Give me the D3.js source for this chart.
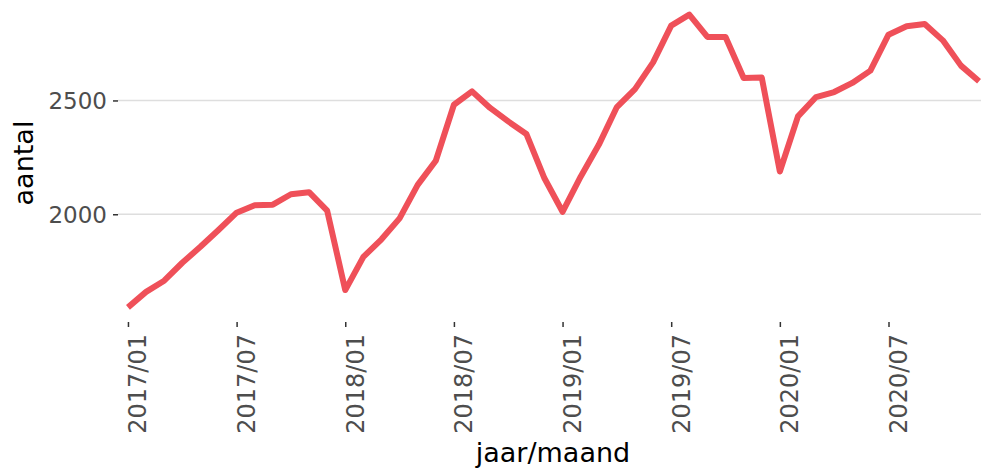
<!DOCTYPE html>
<html>
<head>
<meta charset="utf-8">
<script src="https://cdn.jsdelivr.net/npm/d3@7"></script>
<style>
  body { margin: 0; background: #fff; }
  svg { display: block; }
  svg text { font-family: "DejaVu Sans", sans-serif; }
</style>
</head>
<body>
<div id="chart"></div>
<script>
'use strict';

var months = [
    '2017/01', '2017/02', '2017/03', '2017/04', '2017/05', '2017/06',
    '2017/07', '2017/08', '2017/09', '2017/10', '2017/11', '2017/12',
    '2018/01', '2018/02', '2018/03', '2018/04', '2018/05', '2018/06',
    '2018/07', '2018/08', '2018/09', '2018/10', '2018/11', '2018/12',
    '2019/01', '2019/02', '2019/03', '2019/04', '2019/05', '2019/06',
    '2019/07', '2019/08', '2019/09', '2019/10', '2019/11', '2019/12',
    '2020/01', '2020/02', '2020/03', '2020/04', '2020/05', '2020/06',
    '2020/07', '2020/08', '2020/09', '2020/10', '2020/11', '2020/12'
];

var aantal = [
    1591, 1659, 1708, 1787, 1857, 1931, 2007, 2040, 2042, 2088, 2097, 2016,
    1667, 1813, 1890, 1982, 2129, 2235, 2481, 2540, 2467, 2408, 2353, 2158,
    2011, 2165, 2305, 2471, 2550, 2667, 2829, 2877, 2779, 2779, 2599, 2601,
    2188, 2430, 2515, 2537, 2577, 2631, 2789, 2826, 2836, 2764, 2653, 2584
];

var xTicks = ['2017/01', '2017/07', '2018/01', '2018/07', '2019/01', '2019/07', '2020/01', '2020/07'];
var yTicks = [2000, 2500];

var width = 981,
    height = 469,
    margin = {top: 0, right: -8, bottom: 147, left: 118};

var svg = d3.select('#chart').append('svg')
    .attr('width', width)
    .attr('height', height);

var x = d3.scalePoint()
    .domain(months)
    .range([margin.left, width - margin.right])
    .padding(0.55);

var lo = d3.min(aantal), hi = d3.max(aantal), pad = (hi - lo) * 0.05;
var y = d3.scaleLinear()
    .domain([lo - pad, hi + pad])
    .range([height - margin.bottom, margin.top]);

// grid
svg.append('g')
    .selectAll('line')
    .data(yTicks)
    .enter()
    .append('line')
    .attr('x1', margin.left)
    .attr('x2', width)
    .attr('y1', function(d){ return y(d); })
    .attr('y2', function(d){ return y(d); })
    .attr('stroke', '#dedede')
    .attr('stroke-width', 1.6);

// y axis
var yAxis = svg.append('g')
    .attr('transform', 'translate(' + margin.left + ',0)')
    .call(d3.axisLeft(y).tickValues(yTicks).tickFormat(d3.format('d')).tickSize(5).tickPadding(6));
yAxis.attr('font-family', null);
yAxis.select('.domain').remove();
yAxis.selectAll('line').attr('stroke', '#333').attr('stroke-width', 1.5);
yAxis.selectAll('text')
    .attr('fill', '#4d4d4d')
    .style('font-size', '23px')
    .attr('dy', '0.36em');

// x axis
var xAxis = svg.append('g')
    .attr('transform', 'translate(0,' + (height - margin.bottom) + ')')
    .call(d3.axisBottom(x).tickValues(xTicks).tickSize(5).tickPadding(6));
xAxis.attr('font-family', null);
xAxis.select('.domain').remove();
xAxis.selectAll('line').attr('stroke', '#333').attr('stroke-width', 1.5);
xAxis.selectAll('text')
    .attr('fill', '#4d4d4d')
    .style('font-size', '24px')
    .attr('text-anchor', 'end')
    .attr('transform', 'rotate(-90)')
    .attr('x', -12)
    .attr('y', 0)
    .attr('dy', '0.75em');

// line
var line = d3.line()
    .x(function(d, i){ return x(months[i]); })
    .y(function(d){ return y(d); });

svg.append('path')
    .datum(aantal)
    .attr('d', line)
    .attr('fill', 'none')
    .attr('stroke', '#ef5059')
    .attr('stroke-width', 6)
    .attr('stroke-linejoin', 'round');

// axis titles
svg.append('text')
    .attr('x', 553)
    .attr('y', 462)
    .attr('text-anchor', 'middle')
    .style('font-size', '27px')
    .attr('fill', '#000')
    .text('jaar/maand');

svg.append('text')
    .attr('transform', 'translate(33,163) rotate(-90)')
    .attr('text-anchor', 'middle')
    .style('font-size', '27px')
    .attr('fill', '#000')
    .text('aantal');
</script>
</body>
</html>
